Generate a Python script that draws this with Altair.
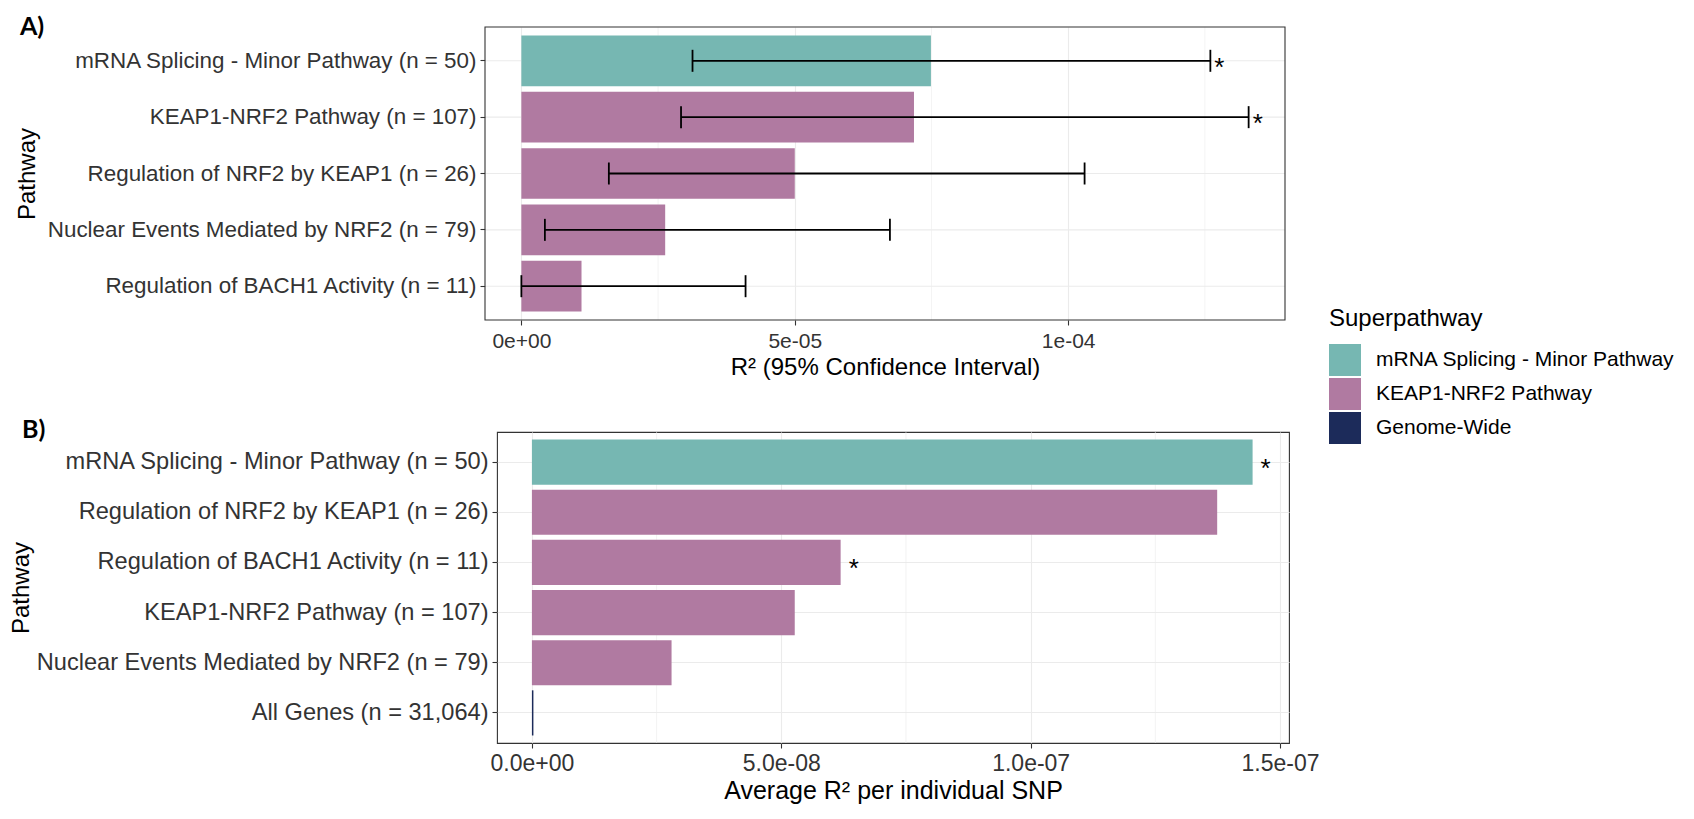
import altair as alt
import pandas as pd

FONT = "Liberation Sans, Arial, sans-serif"

# ---- shared legend ----
SUPER = ["mRNA Splicing - Minor Pathway", "KEAP1-NRF2 Pathway", "Genome-Wide"]
SUPER_COLORS = ["#76B7B2", "#B07AA1", "#1C2B5A"]

# ---- panel A data ----
A_pathway = [
    "mRNA Splicing - Minor Pathway (n = 50)",
    "KEAP1-NRF2 Pathway (n = 107)",
    "Regulation of NRF2 by KEAP1 (n = 26)",
    "Nuclear Events Mediated by NRF2 (n = 79)",
    "Regulation of BACH1 Activity (n = 11)",
]
A_super = [SUPER[0], SUPER[1], SUPER[1], SUPER[1], SUPER[1]]
A_r2 = [7.49e-5, 7.18e-5, 5.0e-5, 2.63e-5, 1.1e-5]
A_lo = [3.13e-5, 2.92e-5, 1.6e-5, 4.3e-6, 0.0]
A_hi = [1.26e-4, 1.33e-4, 1.03e-4, 6.74e-5, 4.1e-5]
A_sig = ["*", "*", "", "", ""]
A_ticks = [0.0, 5e-5, 1e-4]
A_tick_labels = ["0e+00", "5e-05", "1e-04"]
A_minor = [2.5e-5, 7.5e-5, 1.25e-4]
A_domain = [-6.65e-6, 1.3965e-4]

# ---- panel B data ----
B_pathway = [
    "mRNA Splicing - Minor Pathway (n = 50)",
    "Regulation of NRF2 by KEAP1 (n = 26)",
    "Regulation of BACH1 Activity (n = 11)",
    "KEAP1-NRF2 Pathway (n = 107)",
    "Nuclear Events Mediated by NRF2 (n = 79)",
    "All Genes (n = 31,064)",
]
B_super = [SUPER[0], SUPER[1], SUPER[1], SUPER[1], SUPER[1], SUPER[2]]
B_val = [1.445e-7, 1.374e-7, 6.19e-8, 5.27e-8, 2.80e-8, 3e-10]
B_sig = ["*", "", "*", "", "", ""]
B_ticks = [0.0, 5e-8, 1e-7, 1.5e-7]
B_tick_labels = ["0.0e+00", "5.0e-08", "1.0e-07", "1.5e-07"]
B_minor = [2.5e-8, 7.5e-8, 1.25e-7]
B_domain = [-7.0e-9, 1.518e-7]


def label_expr(ticks, labels):
    expr = repr(labels[-1])
    for i in range(len(ticks) - 2, -1, -1):
        mid = (ticks[i] + ticks[i + 1]) / 2
        expr = f"datum.value < {mid!r} ? {labels[i]!r} : ({expr})"
    return expr


color = alt.Color(
    "super:N",
    scale=alt.Scale(domain=SUPER, range=SUPER_COLORS),
    legend=alt.Legend(title="Superpathway"),
)

# ================= Panel A =================
# panel A sits 12 px further left than panel B: its x range starts at -12
A_W, A_H, A_SHIFT = 800, 293, 12
dfA = pd.DataFrame({"pathway": A_pathway, "super": A_super, "r2": A_r2,
                    "lo": A_lo, "hi": A_hi, "sig": A_sig,
                    "x0": [A_domain[0]] * 5, "x1": [A_domain[1]] * 5})
capsA = pd.DataFrame({"pathway": A_pathway + A_pathway, "v": A_lo + A_hi})
frameA = pd.DataFrame({"x0": [A_domain[0]], "x1": [A_domain[1]]})

xscaleA = alt.Scale(domain=A_domain, nice=False, zero=False,
                    range=[-A_SHIFT, A_W - A_SHIFT])
xaxisA = alt.Axis(values=A_ticks, labelExpr=label_expr(A_ticks, A_tick_labels),
                  title="R\u00b2 (95% Confidence Interval)", labelFontSize=21,
                  titleFontSize=24, labelPadding=5, titlePadding=4, grid=True,
                  maxExtent=1000)
yA = alt.Y("pathway:N", sort=A_pathway,
           scale=alt.Scale(paddingInner=0.1, paddingOuter=0.15),
           axis=alt.Axis(title="Pathway", labelFontSize=22.4, titleFontSize=24,
                         labelPadding=4, titlePadding=8, labelLimit=1000, grid=False,
                         maxExtent=1000, offset=A_SHIFT))

gridA = alt.Chart(dfA).mark_rule(color="#EBEBEB", strokeWidth=1.1).encode(
    y=yA, x=alt.X("x0:Q", scale=xscaleA, axis=xaxisA), x2="x1:Q")
minorA = alt.Chart(pd.DataFrame({"v": A_minor})).mark_rule(
    color="#EBEBEB", strokeWidth=0.6).encode(x=alt.X("v:Q", scale=xscaleA, axis=xaxisA))
barsA = alt.Chart(dfA).mark_bar().encode(
    y=yA, x=alt.X("r2:Q", scale=xscaleA, axis=xaxisA), color=color)
errA = alt.Chart(dfA).mark_rule(color="black", strokeWidth=1.8).encode(
    y=yA, x=alt.X("lo:Q", scale=xscaleA, axis=xaxisA), x2="hi:Q")
capA = alt.Chart(capsA).mark_tick(color="black", thickness=1.8, size=22, opacity=1).encode(
    y=yA, x=alt.X("v:Q", scale=xscaleA, axis=xaxisA))
starA = alt.Chart(dfA).mark_text(align="left", baseline="middle", dx=4, dy=7,
                                 fontSize=26, font=FONT, color="black").encode(
    y=yA, x=alt.X("hi:Q", scale=xscaleA, axis=xaxisA), text="sig:N")
borderA = alt.Chart(frameA).mark_rect(fillOpacity=0, stroke="#333333",
                                      strokeWidth=1.1).encode(
    x=alt.X("x0:Q", scale=xscaleA, axis=xaxisA), x2="x1:Q",
    y=alt.value(0), y2=alt.value(A_H))
tagA = alt.Chart(pd.DataFrame({"lab": ["A)"]})).mark_text(
    align="left", baseline="middle", font="Lato", fontWeight="bold",
    fontSize=25, color="black").encode(x=alt.value(-477), y=alt.value(0), text="lab:N")

panelA = alt.layer(gridA, minorA, barsA, errA, capA, starA, borderA, tagA).properties(
    width=A_W - A_SHIFT, height=A_H, view=alt.ViewBackground(strokeOpacity=0))

# ================= Panel B =================
dfB = pd.DataFrame({"pathway": B_pathway, "super": B_super, "val": B_val, "sig": B_sig})

xscaleB = alt.Scale(domain=B_domain, nice=False, zero=False)
xaxisB = alt.Axis(values=B_ticks, labelExpr=label_expr(B_ticks, B_tick_labels),
                  title="Average R\u00b2 per individual SNP", labelFontSize=23,
                  titleFontSize=25, labelPadding=4, titlePadding=3, grid=True,
                  maxExtent=1000)
yB = alt.Y("pathway:N", sort=B_pathway,
           scale=alt.Scale(paddingInner=0.1, paddingOuter=0.15),
           axis=alt.Axis(title="Pathway", labelFontSize=23.6, titleFontSize=24,
                         labelPadding=4, titlePadding=3, labelLimit=1000, grid=True,
                         maxExtent=1000))

minorB = alt.Chart(pd.DataFrame({"v": B_minor})).mark_rule(
    color="#EBEBEB", strokeWidth=0.6).encode(x=alt.X("v:Q", scale=xscaleB, axis=xaxisB))
barsB = alt.Chart(dfB).mark_bar().encode(
    y=yB, x=alt.X("val:Q", scale=xscaleB, axis=xaxisB), color=color)
starB = alt.Chart(dfB).mark_text(align="left", baseline="middle", dx=8, dy=7,
                                 fontSize=26, font=FONT, color="black").encode(
    y=yB, x=alt.X("val:Q", scale=xscaleB, axis=xaxisB), text="sig:N")
tagB = alt.Chart(pd.DataFrame({"lab": ["B)"]})).mark_text(
    align="left", baseline="middle", font="Lato", fontWeight="bold",
    fontSize=25, color="black").encode(x=alt.value(-475), y=alt.value(-2), text="lab:N")

panelB = alt.layer(minorB, barsB, starB, tagB).properties(width=792, height=311)

chart = alt.concat(panelA, panelB, columns=1, spacing=38).properties(
    padding={"left": 0, "top": 7, "right": 0, "bottom": 0}
).configure_view(
    stroke="#333333", strokeWidth=1.1
).configure_axis(
    domain=False, tickColor="#333333", tickWidth=1.1, tickSize=5,
    gridColor="#EBEBEB", gridWidth=1.1, labelColor="#333333", titleColor="black",
    labelFont=FONT, titleFont=FONT, titleFontWeight="normal"
).configure_legend(
    orient="none", legendX=832, legendY=280, titleFontSize=24, labelFontSize=21,
    titleFont=FONT, labelFont=FONT, titleFontWeight="normal", titleColor="black",
    labelColor="black", symbolType="square", symbolSize=1024, symbolStrokeWidth=0,
    symbolOpacity=1, labelOffset=15, rowPadding=2, titlePadding=13, padding=0,
    labelLimit=600
)

chart.save("out.html", embed_options={"renderer": "svg", "actions": False})
